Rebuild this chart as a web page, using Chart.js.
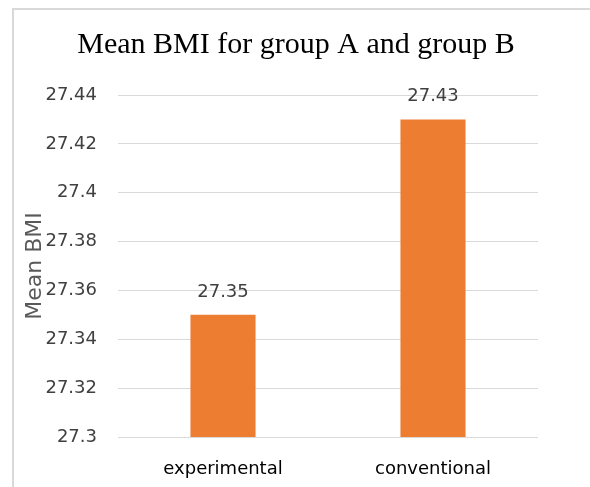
<!DOCTYPE html>
<html>
<head>
<meta charset="utf-8">
<script src="https://cdn.jsdelivr.net/npm/chart.js@4/dist/chart.umd.min.js"></script>
<style>
    html, body { margin:0; padding:0; background:#fff; }
    body { width:590px; height:487px; overflow:hidden; position:relative; }
    #frame { position:absolute; left:12px; top:8px; width:600px; height:500px; border:2px solid #d9d9d9; box-sizing:border-box; }
    #wrap  { position:absolute; left:15px; top:11px; width:575px; height:476px; }
</style>
</head>
<body>
<div id="frame"></div>
<div id="wrap"><canvas id="bmiChart"></canvas></div>
<script>
const categories = ['experimental', 'conventional'];
const meanBmi    = [27.35, 27.43];
const yTicks     = [27.3, 27.32, 27.34, 27.36, 27.38, 27.4, 27.42, 27.44];
const chartTitle = 'Mean BMI for group A and group B';
const yTitle     = 'Mean BMI';

const labelFont = '18px "DejaVu Sans"';

// title, value labels above bars, and the rotated y title that sits over the ticks like the original
const extras = {
    id: 'extras',
    afterDatasetsDraw(chart) {
        const ctx  = chart.ctx;
        const meta = chart.getDatasetMeta(0);
        const a    = chart.chartArea;
        ctx.save();
        ctx.textAlign = 'center';
        ctx.textBaseline = 'middle';

        ctx.font = '30px "Liberation Serif"';
        ctx.fillStyle = '#000';
        ctx.fillText(chartTitle, 281, 34);

        ctx.font = labelFont;
        ctx.fillStyle = '#404040';
        meta.data.forEach((bar, i) => {
            ctx.fillText(String(meanBmi[i]), bar.x, bar.y - 23);
        });

        ctx.translate(20, (a.top + a.bottom) / 2);
        ctx.rotate(-Math.PI / 2);
        ctx.font = '22px "DejaVu Sans"';
        ctx.fillStyle = '#595959';
        ctx.fillText(yTitle, 0, 0);
        ctx.restore();
    }
};

new Chart(document.getElementById('bmiChart'), {
    type: 'bar',
    data: {
        labels: categories,
        datasets: [{
            data: meanBmi,
            backgroundColor: '#ed7d31',
            categoryPercentage: 1,
            barPercentage: 0.31
        }]
    },
    options: {
        responsive: true,
        maintainAspectRatio: false,
        animation: false,
        layout: { padding: { left: 0, right: 52, top: 84, bottom: 0 } },
        plugins: {
            legend: { display: false },
            tooltip: { enabled: false },
            title: { display: false }
        },
        scales: {
            x: {
                grid: { display: false },
                border: { display: false },
                afterFit: s => { s.height = 50; },
                ticks: { color: '#000', font: { family: '"DejaVu Sans"', size: 18 }, padding: 14, maxRotation: 0 }
            },
            y: {
                min: 27.3,
                max: 27.44,
                afterFit: s => { s.width = 103; },
                afterBuildTicks: s => { s.ticks = yTicks.map(v => ({ value: v })); },
                grid: { color: '#d9d9d9', drawTicks: false },
                border: { display: false },
                ticks: { color: '#404040', font: { family: '"DejaVu Sans"', size: 18 }, padding: 21,
                         callback: v => String(+v.toFixed(2)) }
            }
        }
    },
    plugins: [extras]
});
</script>
</body>
</html>
